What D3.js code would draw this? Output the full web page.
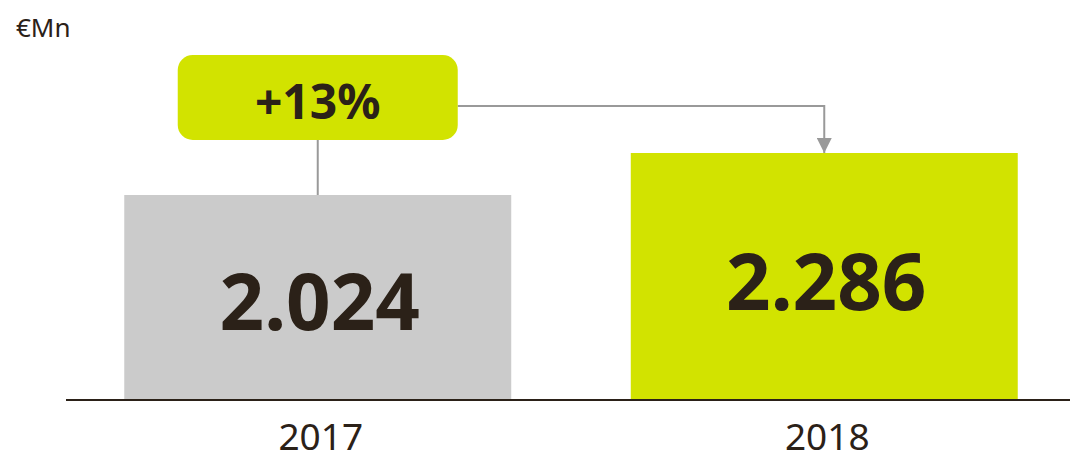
<!DOCTYPE html>
<meta charset="utf-8">
<head>
<style>
  body { margin: 0; background: #fff; }
  text { font-family: "Noto Sans", "Open Sans", sans-serif; fill: #2b2118; }
</style>
</head>
<body>
<script src="https://d3js.org/d3.v7.min.js"></script>
<script>

// Data
var years = ["2017", "2018"];
var values = [2024, 2286];
var valueLabels = ["2.024", "2.286"];
var barColors = ["#cbcbcb", "#d2e300"];
var growthLabel = "+13%";
var unitLabel = "€Mn";

var width = 1070,
    height = 461;

var svg = d3.select("body").append("svg")
    .attr("width", width)
    .attr("height", height);

// x: band per year
var x = d3.scaleBand()
    .domain(years)
    .range([66, 1076])
    .paddingInner(0.236)
    .paddingOuter(0.115);

// y: axis not starting at zero (as in the original)
var y = d3.scaleLinear()
    .domain([745, 2286])
    .range([400, 153]);

var baseY = y(745);

// arrow marker
svg.append("defs").append("marker")
    .attr("id", "arrow")
    .attr("viewBox", "0 0 10 10")
    .attr("refX", 10)
    .attr("refY", 5)
    .attr("markerUnits", "userSpaceOnUse")
    .attr("markerWidth", 15)
    .attr("markerHeight", 15)
    .attr("orient", "auto")
  .append("path")
    .attr("d", "M0,0L10,5L0,10Z")
    .attr("fill", "#999");

// unit
svg.append("text")
    .attr("x", 16)
    .attr("y", 37)
    .style("font-size", "26px")
    .text(unitLabel);

// bars
var data = years.map(function(d, i) { return {year: d, value: values[i], label: valueLabels[i], color: barColors[i]}; });

svg.selectAll("rect.bar")
    .data(data)
    .enter().append("rect")
    .attr("class", "bar")
    .attr("x", function(d) { return x(d.year); })
    .attr("y", function(d) { return y(d.value); })
    .attr("width", x.bandwidth())
    .attr("height", function(d) { return baseY - y(d.value); })
    .attr("fill", function(d) { return d.color; });

// value labels inside bars
svg.selectAll("text.val")
    .data(data)
    .enter().append("text")
    .attr("class", "val")
    .attr("x", function(d) { return x(d.year) + x.bandwidth() / 2 + 2; })
    .attr("y", function(d) { return (y(d.value) + baseY) / 2 + 33; })
    .attr("text-anchor", "middle")
    .style("font-size", "78px")
    .style("font-weight", "bold")
    .text(function(d) { return d.label; });

// baseline
svg.append("line")
    .attr("x1", 66).attr("x2", width)
    .attr("y1", baseY).attr("y2", baseY)
    .attr("stroke", "#2b2118")
    .attr("stroke-width", 2);

// year labels
svg.selectAll("text.year")
    .data(data)
    .enter().append("text")
    .attr("class", "year")
    .attr("x", function(d) { return x(d.year) + x.bandwidth() / 2 + 3; })
    .attr("y", 450)
    .attr("text-anchor", "middle")
    .style("font-size", "37px")
    .text(function(d) { return d.year; });

// growth callout
var cx0 = x(years[0]) + x.bandwidth() / 2,
    cx1 = x(years[1]) + x.bandwidth() / 2;
var boxW = 280, boxH = 85, boxTop = 55;

// connector from box down to 2017 bar
svg.append("line")
    .attr("x1", cx0).attr("x2", cx0)
    .attr("y1", boxTop + boxH).attr("y2", y(values[0]))
    .attr("stroke", "#999")
    .attr("stroke-width", 2);

// connector from box to 2018 bar, with arrow
svg.append("path")
    .attr("d", "M" + (cx0 + boxW / 2) + "," + 106 + "H" + cx1 + "V" + y(values[1]))
    .attr("fill", "none")
    .attr("stroke", "#999")
    .attr("stroke-width", 2)
    .attr("marker-end", "url(#arrow)");

svg.append("rect")
    .attr("x", cx0 - boxW / 2)
    .attr("y", boxTop)
    .attr("width", boxW)
    .attr("height", boxH)
    .attr("rx", 15)
    .attr("fill", "#d2e300");

svg.append("text")
    .attr("x", cx0)
    .attr("y", 119)
    .attr("text-anchor", "middle")
    .style("font-size", "48px")
    .style("font-weight", "bold")
    .text(growthLabel);

</script>
</body>
